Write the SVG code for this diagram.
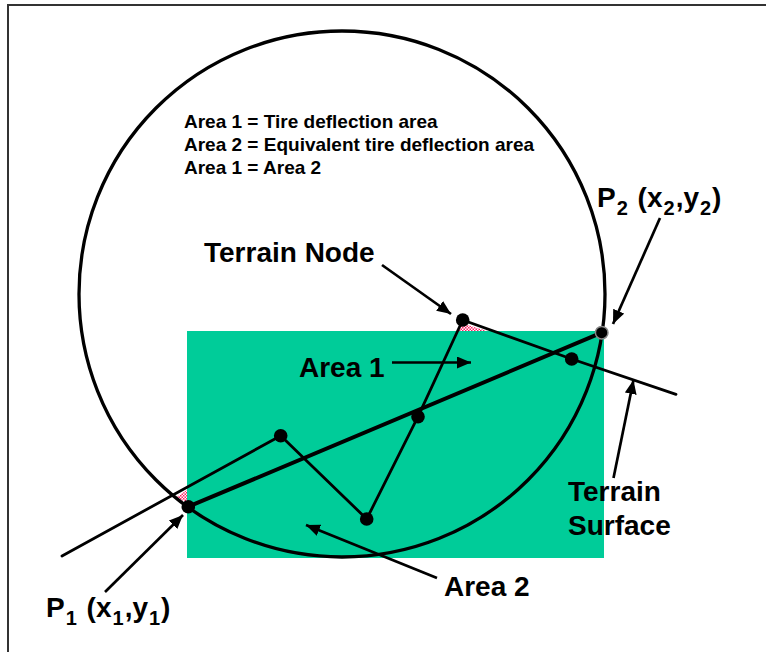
<svg xmlns="http://www.w3.org/2000/svg" width="766" height="652" viewBox="0 0 766 652">
<style>
.lbl{font-family:"Liberation Sans",Arial,sans-serif;font-weight:bold;fill:#000}
.big{font-size:28px}
.small{font-size:19px}
.ln{stroke:#000;fill:none;stroke-linecap:round;stroke-linejoin:round}
.arr{stroke:#000;stroke-width:2.7;fill:none;marker-end:url(#ah)}
.dot{fill:#000}
</style>
<defs>
<marker id="ah" markerUnits="userSpaceOnUse" markerWidth="16" markerHeight="12" viewBox="0 0 16 12" refX="14" refY="6" orient="auto">
<path d="M0,0 L14,6 L0,12 Z" fill="#000"/>
</marker>
<pattern id="hatch" patternUnits="userSpaceOnUse" width="3" height="3">
<rect width="3" height="3" fill="#ffffff"/>
<rect width="1.5" height="1.5" fill="#ff2266"/>
<rect x="1.5" y="1.5" width="1.5" height="1.5" fill="#ff2266"/>
</pattern>
</defs>
<rect x="0" y="0" width="766" height="652" fill="#fff"/>
<rect x="8" y="5" width="820" height="720" fill="none" stroke="#333" stroke-width="2"/>

<g id="area-rect">
<rect x="187" y="331" width="417" height="227" fill="#00CC99"/>
</g>
<g id="hatch-areas">
<polygon points="461,323 458,331 487,331" fill="url(#hatch)"/>
<polygon points="175,498 187,490 187,502" fill="url(#hatch)"/>
</g>
<g id="tire">
<circle cx="342" cy="294" r="263" fill="none" stroke="#000" stroke-width="3.3"/>
</g>

<g id="connectors">
<polyline class="ln" stroke-width="2.8" points="62,556 280.7,435.7 366.7,519 418,416.7 462.7,320 571.7,359 676,394.3"/>
<line class="ln" stroke-width="4" x1="188.3" y1="506.7" x2="601.7" y2="332.7"/>
<line class="arr" x1="382" y1="265" x2="451" y2="314"/>
<line class="arr" x1="660" y1="218" x2="613" y2="324"/>
<line class="arr" x1="392" y1="362.5" x2="471" y2="362.5"/>
<line class="arr" x1="613.5" y1="478" x2="633.5" y2="380"/>
<line class="arr" x1="437" y1="578" x2="306" y2="525"/>
<line class="arr" x1="105" y1="592" x2="183" y2="515"/>
</g>

<g id="node-terrain"><circle class="dot" cx="462.7" cy="320" r="6.8"/></g>
<g id="node-p2"><circle class="dot" cx="601.7" cy="332.7" r="6.3" stroke="#888" stroke-width="1.5"/></g>
<g id="node-a"><circle class="dot" cx="571.7" cy="359" r="6.8"/></g>
<g id="node-b"><circle class="dot" cx="418" cy="416.7" r="6.8"/></g>
<g id="node-c"><circle class="dot" cx="280.7" cy="435.7" r="6.8"/></g>
<g id="node-d"><circle class="dot" cx="366.7" cy="519" r="6.8"/></g>
<g id="node-p1"><circle class="dot" cx="188.3" cy="506.7" r="6.8"/></g>

<g id="legend">
<text class="lbl small" x="184" y="128">Area 1 = Tire deflection area</text>
<text class="lbl small" x="184" y="151">Area 2 = Equivalent tire deflection area</text>
<text class="lbl small" x="184" y="174">Area 1 = Area 2</text>
</g>
<g id="label-terrain-node"><text class="lbl big" x="204" y="262">Terrain Node</text></g>
<g id="label-area1"><text class="lbl big" x="299" y="377">Area 1</text></g>
<g id="label-area2"><text class="lbl big" x="444" y="596">Area 2</text></g>
<g id="label-terrain-surface">
<text class="lbl big" x="568" y="501">Terrain</text>
<text class="lbl big" x="568" y="535">Surface</text>
</g>
<g id="label-p2"><text class="lbl big" x="597" y="207" font-size="29">P<tspan font-size="20" dx="1" dy="8">2</tspan><tspan dx="2" dy="-8"> (x</tspan><tspan font-size="20" dx="1" dy="8">2</tspan><tspan dx="1" dy="-8">,y</tspan><tspan font-size="20" dx="1" dy="8">2</tspan><tspan dx="1" dy="-8">)</tspan></text></g>
<g id="label-p1"><text class="lbl big" x="46" y="617" font-size="29">P<tspan font-size="20" dx="1" dy="8">1</tspan><tspan dx="2" dy="-8"> (x</tspan><tspan font-size="20" dx="1" dy="8">1</tspan><tspan dx="1" dy="-8">,y</tspan><tspan font-size="20" dx="1" dy="8">1</tspan><tspan dx="1" dy="-8">)</tspan></text></g>
</svg>
